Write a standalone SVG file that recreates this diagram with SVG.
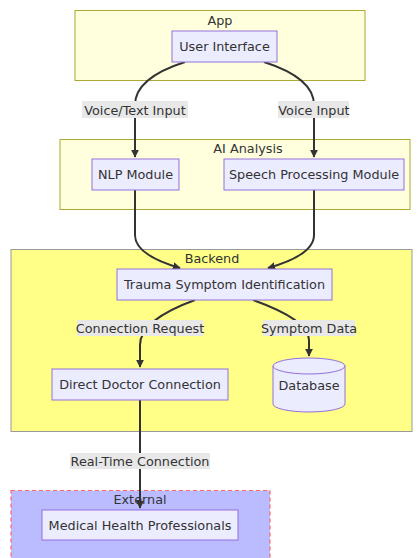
<svg xmlns="http://www.w3.org/2000/svg" width="420" height="558" viewBox="0 0 420 558">
<style>
text{font-family:"DejaVu Sans",Verdana,sans-serif;font-size:12.8px;fill:#333;text-anchor:middle;dominant-baseline:central}
.cl{fill:#ffffde;stroke:#aaaa33;stroke-width:1}
.n{fill:#ececff;stroke:#9370db;stroke-width:1}
.e{fill:none;stroke:#333;stroke-width:2}
.lb{fill:#e8e8e8}
</style>
<defs>
<marker id="a" viewBox="0 0 10 10" refX="9" refY="5" markerWidth="8" markerHeight="8" markerUnits="userSpaceOnUse" orient="auto"><path d="M0,0L10,5L0,10z" fill="#333"/></marker>
</defs>
<rect width="420" height="558" fill="#fff"/>
<g id="cluster-app"><rect class="cl" x="75" y="10.5" width="290" height="70"/><text x="220" y="20">App</text></g>
<g id="cluster-ai"><rect class="cl" x="60" y="139.5" width="350" height="70"/><text x="248" y="148">AI Analysis</text></g>
<g id="cluster-backend"><rect x="11" y="249.5" width="401" height="182" fill="#ffff88" stroke="#999" stroke-width="1"/><text x="212" y="258">Backend</text></g>
<g id="cluster-external"><rect x="11" y="490.5" width="259" height="75" fill="#bbbbff" stroke="#ff6666" stroke-width="1.2" stroke-dasharray="4,3"/><text x="140" y="499">External</text></g>
<g id="edges">
<path class="e" d="M185,62 Q135,78 135,105 L135,157" marker-end="url(#a)"/>
<path class="e" d="M264,62 Q314,78 314,105 L314,157" marker-end="url(#a)"/>
<path class="e" d="M135,190 L135,235 Q135,255 180,268" marker-end="url(#a)"/>
<path class="e" d="M314,190 L314,235 Q314,255 268,268" marker-end="url(#a)"/>
<path class="e" d="M195,300 Q140,320 140,345 L140,367" marker-end="url(#a)"/>
<path class="e" d="M253,300 Q309,320 309,340 L309,356" marker-end="url(#a)"/>
<path class="e" d="M140,400 L140,508" marker-end="url(#a)"/>
</g>
<g id="edge-labels">
<rect class="lb" x="82" y="101" width="106" height="17"/><text x="135" y="110">Voice/Text Input</text>
<rect class="lb" x="278" y="101" width="71" height="17"/><text x="314" y="110">Voice Input</text>
<rect class="lb" x="77" y="320" width="126" height="16"/><text x="140" y="328">Connection Request</text>
<rect class="lb" x="263" y="320" width="92" height="16"/><text x="309" y="328">Symptom Data</text>
<rect class="lb" x="70" y="453" width="140" height="16"/><text x="140" y="461">Real-Time Connection</text>
</g>
<g id="n-ui"><rect class="n" x="172" y="31" width="105" height="31"/><text x="224.5" y="46.5">User Interface</text></g>
<g id="n-nlp"><rect class="n" x="92" y="159" width="87" height="31"/><text x="135.5" y="174.5">NLP Module</text></g>
<g id="n-speech"><rect class="n" x="224" y="159" width="180" height="31"/><text x="314" y="174.5">Speech Processing Module</text></g>
<g id="n-trauma"><rect class="n" x="117" y="269" width="215" height="31"/><text x="224.5" y="284.5">Trauma Symptom Identification</text></g>
<g id="n-direct"><rect class="n" x="52" y="369" width="176" height="31"/><text x="140" y="384.5">Direct Doctor Connection</text></g>
<g id="n-db"><path class="n" d="M273,366 a36,8 0 0 1 72,0 v38 a36,8 0 0 1 -72,0 z"/><path d="M273,366 a36,8 0 0 0 72,0" fill="none" stroke="#9370db"/><text x="309" y="385">Database</text></g>
<g id="n-med"><rect class="n" x="42" y="510" width="196" height="30"/><text x="140" y="525">Medical Health Professionals</text></g>
</svg>
